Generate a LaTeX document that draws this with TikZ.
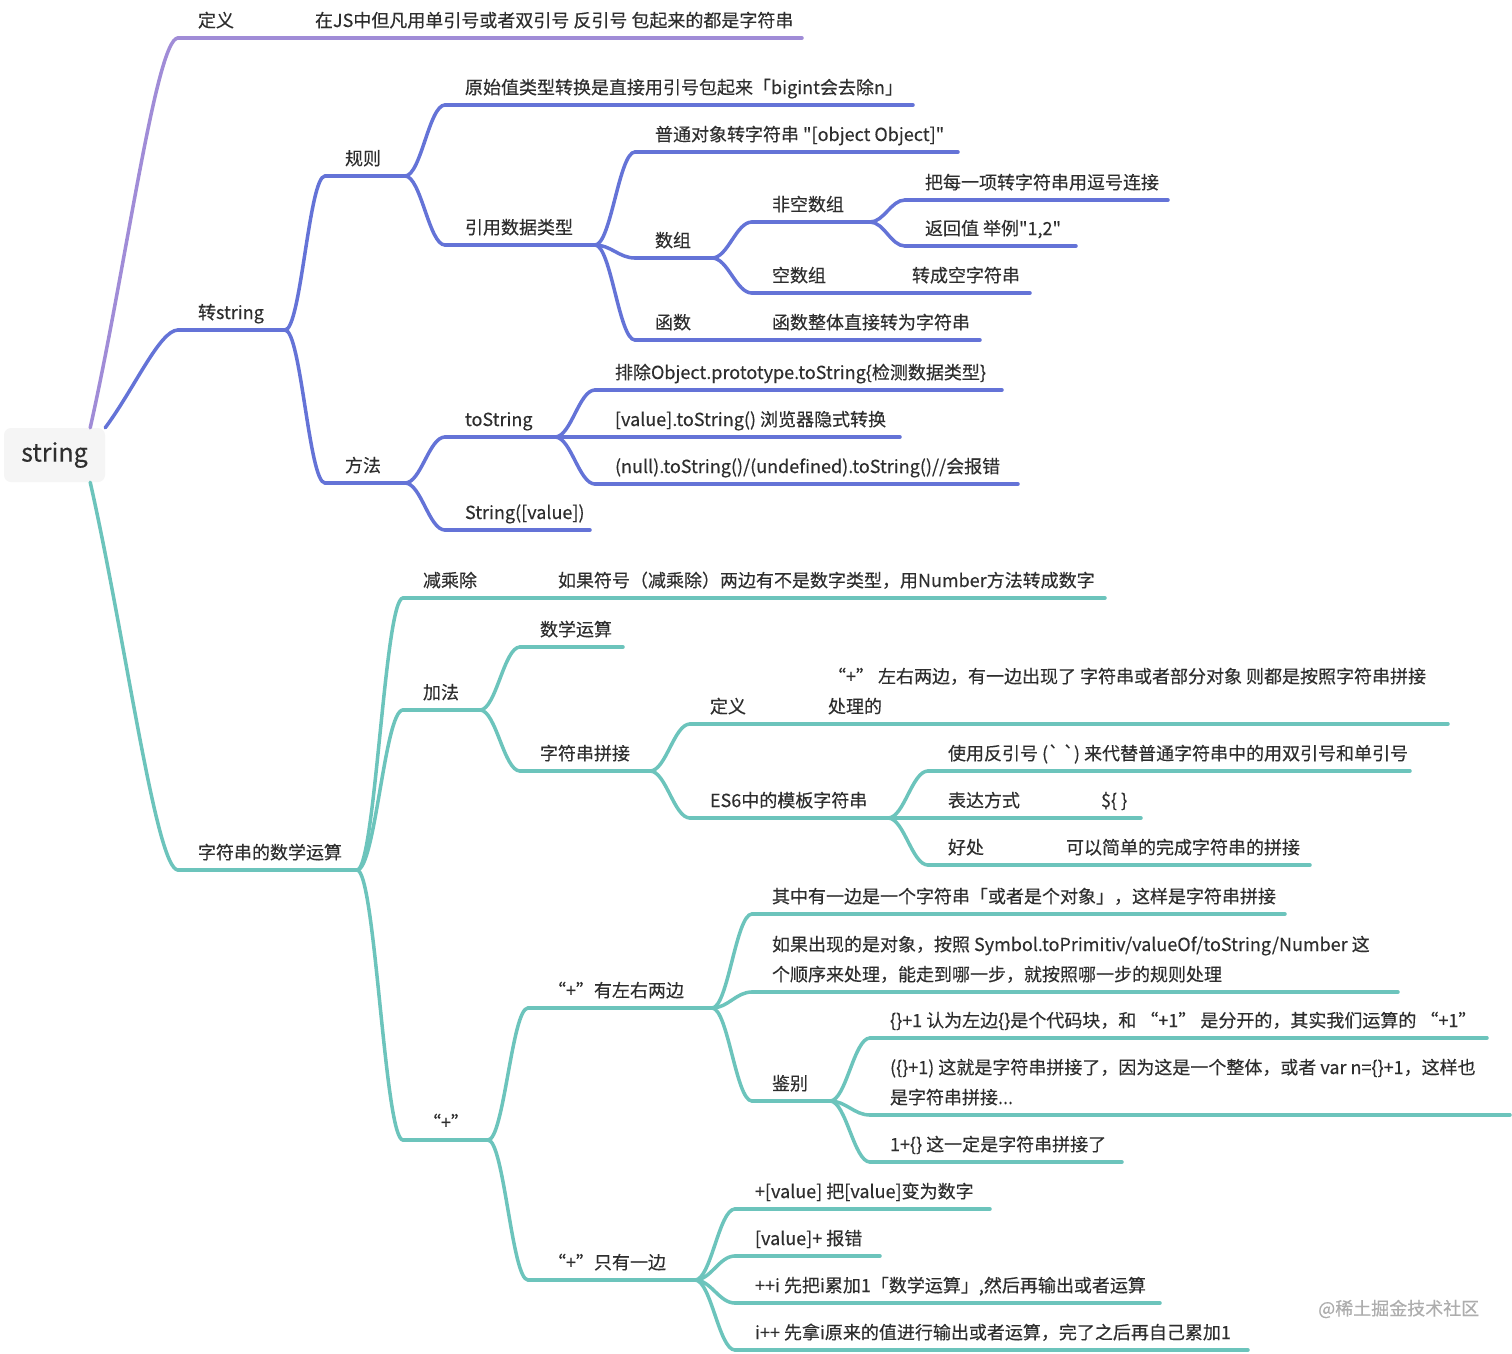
\documentclass[tikz,border=0pt]{standalone}
\usepackage{fontspec}
\newfontfamily\mmfont{Noto Sans CJK SC}[FakeBold=0.25]
\usetikzlibrary{calc}
\definecolor{cpur}{HTML}{A08CD7}
\definecolor{cblu}{HTML}{6473D7}
\definecolor{ctea}{HTML}{6CC4BC}
\definecolor{ctxt}{HTML}{2E2E2E}
\tikzset{
  mmtext/.style={anchor=south west, inner xsep=20pt, inner ysep=7pt, outer sep=0pt,
    text depth=4pt, text=ctxt, font=\mmfont\fontsize{18}{30}\selectfont},
  mmline/.style={line width=3.5pt, line cap=round},
}
\newcommand\mm[6]{%
  \node[mmtext] (#1) at (#3,#5) {\makebox[\dimexpr #4pt-#3pt-40pt\relax][l]{#6}};
  \draw[mmline,draw=#2] (#1.south west) -- (#1.south east);}
% branch connector: horizontal S-curve from parent line end to child line start
\newcommand\mmedge[3]{%
  \draw[mmline,draw=#1] (#2) .. controls ($(#2)!0.4!(#2 -| #3)$) and ($(#3)!0.4!(#3 -| #2)$) .. (#3);}
% root connector: leaves the root box along the chord
\newcommand\mmroot[3]{%
  \draw[mmline,draw=#1] (#2) .. controls ($(#2)!0.4!(#3)$) and ($(#3)!0.25!(#2 |- #3)$) .. (#3);}
\begin{document}
\begin{tikzpicture}[x=1pt,y=-1pt]
\fill[white] (0,0) rectangle (1512,1353);
\useasboundingbox (0,0) rectangle (1512,1353);

% purple
\mm{def}{cpur}{178}{256}{38}{定义}
\mm{defc}{cpur}{295}{802}{38}{在JS中但凡用单引号或者双引号 反引号 包起来的都是字符串}

% blue
\mm{zs}{cblu}{178}{285}{330}{转string}
\mm{gz}{cblu}{325}{405}{176}{规则}
\mm{ys}{cblu}{445}{913}{105}{原始值类型转换是直接用引号包起来「bigint会去除n」}
\mm{yy}{cblu}{445}{595}{245}{引用数据类型}
\mm{pto}{cblu}{635}{958}{152}{普通对象转字符串 "[object Object]"}
\mm{sz}{cblu}{635}{712}{258}{数组}
\mm{fk}{cblu}{752}{870}{222}{非空数组}
\mm{fka}{cblu}{905}{1168}{200}{把每一项转字符串用逗号连接}
\mm{fkb}{cblu}{905}{1076}{246}{返回值 举例"1,2"}
\mm{kz}{cblu}{752}{845}{293}{空数组}
\mm{kza}{cblu}{892}{1030}{293}{转成空字符串}
\mm{hs}{cblu}{635}{712}{340}{函数}
\mm{hsa}{cblu}{752}{980}{340}{函数整体直接转为字符串}
\mm{ff}{cblu}{325}{405}{483}{方法}
\mm{ts}{cblu}{445}{555}{437}{toString}
\mm{tsa}{cblu}{595}{1002}{390}{排除Object.prototype.toString\{检测数据类型\}}
\mm{tsb}{cblu}{595}{900}{437}{[value].toString() 浏览器隐式转换}
\mm{tsc}{cblu}{595}{1018}{484}{(null).toString()/(undefined).toString()//会报错}
\mm{sv}{cblu}{445}{590}{530}{String([value])}

% teal
\mm{sx}{ctea}{178}{357}{870}{字符串的数学运算}
\mm{jc}{ctea}{403}{480}{598}{减乘除}
\mm{jca}{ctea}{538}{1105}{598}{如果符号（减乘除）两边有不是数字类型，用Number方法转成数字}
\mm{jf}{ctea}{403}{480}{710}{加法}
\mm{sxys}{ctea}{520}{623}{647}{数学运算}
\mm{pj}{ctea}{520}{650}{771}{字符串拼接}
\mm{dy}{ctea}{690}{768}{724}{定义}
\mm{dya}{ctea}{808}{1448}{724}{\begin{tabular}[b]{@{}l@{}}“+” 左右两边，有一边出现了 字符串或者部分对象 则都是按照字符串拼接\\处理的\end{tabular}}
\mm{es}{ctea}{690}{888}{818}{ES6中的模板字符串}
\mm{esa}{ctea}{928}{1410}{771}{使用反引号 (` `) 来代替普通字符串中的用双引号和单引号}
\mm{esb}{ctea}{928}{1005}{818}{表达方式}
\mm{esba}{ctea}{1081}{1141}{818}{\$\{ \}}
\mm{esc}{ctea}{928}{1005}{865}{好处}
\mm{esca}{ctea}{1046}{1310}{865}{可以简单的完成字符串的拼接}
\mm{plus}{ctea}{403}{488}{1140}{“+”}
\mm{lr}{ctea}{528}{712}{1008}{“+”有左右两边}
\mm{lra}{ctea}{752}{1285}{914}{其中有一边是一个字符串「或者是个对象」，这样是字符串拼接}
\mm{lrb}{ctea}{752}{1398}{992}{\begin{tabular}[b]{@{}l@{}}如果出现的是对象，按照 Symbol.toPrimitiv/valueOf/toString/Number 这\\个顺序来处理，能走到哪一步，就按照哪一步的规则处理\end{tabular}}
\mm{jb}{ctea}{752}{830}{1101}{鉴别}
\mm{jba}{ctea}{870}{1487}{1038}{\{\}+1 认为左边\{\}是个代码块，和 “+1” 是分开的，其实我们运算的 “+1”}
\mm{jbb}{ctea}{870}{1510}{1115}{\begin{tabular}[b]{@{}l@{}}(\{\}+1) 这就是字符串拼接了，因为这是一个整体，或者 var n=\{\}+1，这样也\\是字符串拼接...\end{tabular}}
\mm{jbc}{ctea}{870}{1122}{1162}{1+\{\} 这一定是字符串拼接了}
\mm{one}{ctea}{528}{695}{1280}{“+”只有一边}
\mm{oa}{ctea}{735}{990}{1209}{+[value] 把[value]变为数字}
\mm{ob}{ctea}{735}{880}{1256}{[value]+ 报错}
\mm{oc}{ctea}{735}{1160}{1303}{++i 先把i累加1「数学运算」,然后再输出或者运算}
\mm{od}{ctea}{735}{1248}{1350}{i++ 先拿i原来的值进行输出或者运算，完了之后再自己累加1}

% root
\node[fill=black!4, rounded corners=7pt, minimum width=101pt, minimum height=54pt, inner sep=0pt,
  text=ctxt, font=\mmfont\fontsize{25}{30}\selectfont] (root) at (54.5,455) {string};
\coordinate (rpur) at ($(root.north east)+(-15,0)$);
\coordinate (rblu) at (root.north east);
\coordinate (rtea) at ($(root.south east)+(-15,0)$);

% connectors
\mmroot{cpur}{rpur}{def.south west}
\mmedge{cpur}{def.south east}{defc.south west}
\mmroot{cblu}{rblu}{zs.south west}
\mmedge{cblu}{zs.south east}{gz.south west}
\mmedge{cblu}{zs.south east}{ff.south west}
\mmedge{cblu}{gz.south east}{ys.south west}
\mmedge{cblu}{gz.south east}{yy.south west}
\mmedge{cblu}{yy.south east}{pto.south west}
\mmedge{cblu}{yy.south east}{sz.south west}
\mmedge{cblu}{yy.south east}{hs.south west}
\mmedge{cblu}{sz.south east}{fk.south west}
\mmedge{cblu}{sz.south east}{kz.south west}
\mmedge{cblu}{fk.south east}{fka.south west}
\mmedge{cblu}{fk.south east}{fkb.south west}
\mmedge{cblu}{kz.south east}{kza.south west}
\mmedge{cblu}{hs.south east}{hsa.south west}
\mmedge{cblu}{ff.south east}{ts.south west}
\mmedge{cblu}{ff.south east}{sv.south west}
\mmedge{cblu}{ts.south east}{tsa.south west}
\mmedge{cblu}{ts.south east}{tsb.south west}
\mmedge{cblu}{ts.south east}{tsc.south west}
\mmroot{ctea}{rtea}{sx.south west}
\mmedge{ctea}{sx.south east}{jc.south west}
\mmedge{ctea}{sx.south east}{jf.south west}
\mmedge{ctea}{sx.south east}{plus.south west}
\mmedge{ctea}{jc.south east}{jca.south west}
\mmedge{ctea}{jf.south east}{sxys.south west}
\mmedge{ctea}{jf.south east}{pj.south west}
\mmedge{ctea}{pj.south east}{dy.south west}
\mmedge{ctea}{pj.south east}{es.south west}
\mmedge{ctea}{dy.south east}{dya.south west}
\mmedge{ctea}{es.south east}{esa.south west}
\mmedge{ctea}{es.south east}{esb.south west}
\mmedge{ctea}{es.south east}{esc.south west}
\mmedge{ctea}{esb.south east}{esba.south west}
\mmedge{ctea}{esc.south east}{esca.south west}
\mmedge{ctea}{plus.south east}{lr.south west}
\mmedge{ctea}{plus.south east}{one.south west}
\mmedge{ctea}{lr.south east}{lra.south west}
\mmedge{ctea}{lr.south east}{lrb.south west}
\mmedge{ctea}{lr.south east}{jb.south west}
\mmedge{ctea}{jb.south east}{jba.south west}
\mmedge{ctea}{jb.south east}{jbb.south west}
\mmedge{ctea}{jb.south east}{jbc.south west}
\mmedge{ctea}{one.south east}{oa.south west}
\mmedge{ctea}{one.south east}{ob.south west}
\mmedge{ctea}{one.south east}{oc.south west}
\mmedge{ctea}{one.south east}{od.south west}

% watermark
\node[anchor=west, inner sep=0pt, text=black!32, font=\mmfont\fontsize{18}{20}\selectfont] (wm) at (1318,1309) {@稀土掘金技术社区};
\end{tikzpicture}
\end{document}
